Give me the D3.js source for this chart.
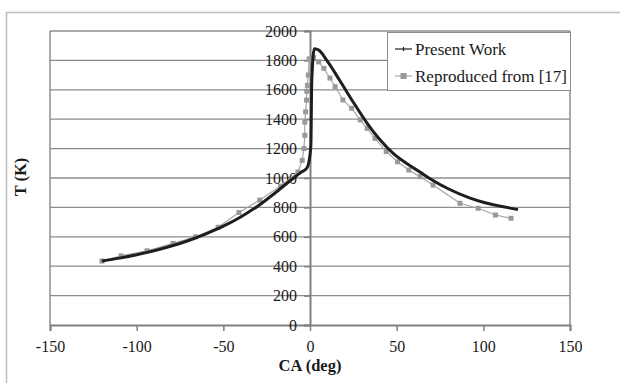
<!DOCTYPE html>
<html><head><meta charset="utf-8">
<script src="https://cdn.jsdelivr.net/npm/d3@7"></script>
<style>body{margin:0;background:#fff}svg{display:block}text{font-family:"Liberation Serif","Times New Roman",serif;fill:#1a1a1a}</style>
</head><body><svg id="c" width="620" height="383"></svg>
<script>
// Present Work (black)
const presentCA = [-120,-110,-100,-90,-80,-70,-60,-50,-40,-30,-20,-10,-5,-2,-1,0.5,1,2.5,5,10,17,25,33,40,48,55,63.5,70,80,92,100,110,120];
const presentT  = [435,455,478,505,537,575,620,672,735,810,900,995,1040,1065,1090,1220,1650,1880,1870,1795,1667,1515,1372,1265,1168,1105,1040,990,925,865,835,808,785];
// Reproduced from [17] (gray squares)
const reproCA = [-120,-109,-94,-79,-66,-53,-41,-29,-17,-7,-4.5,-3.5,-3,-3,-2.5,-2,-1.8,-1.5,-1,-0.5,2,5,8,11.5,14.5,19,24,29,33,37.5,44,50.5,57,63.5,71,86.5,97,107,116];
const reproT  = [435,470,505,555,600,665,765,850,945,1040,1120,1200,1290,1380,1450,1530,1590,1630,1700,1810,1820,1790,1746,1680,1621,1531,1474,1395,1338,1270,1180,1110,1054,1009,952,828,794,748,726];
const xTicks = [-150,-100,-50,0,50,100,150];
const yTicks = [0,200,400,600,800,1000,1200,1400,1600,1800,2000];
const seriesNames = ["Present Work","Reproduced from [17]"];

const FONT = '"Liberation Serif","Times New Roman",serif';
const svg = d3.select("#c");
const x = d3.scaleLinear().domain([-150,150]).range([50,570]);
const y = d3.scaleLinear().domain([0,2000]).range([325,31]);

// outer frame
svg.append("rect").attr("x",6.5).attr("y",12.5).attr("width",640).attr("height",400)
  .attr("fill","none").attr("stroke","#bdbdbd").attr("stroke-width",1.5);

// gridlines
svg.append("g").selectAll("line").data(yTicks.filter(d=>d>0)).join("line")
  .attr("x1",x(-150)).attr("x2",x(150)).attr("y1",d=>y(d)).attr("y2",d=>y(d))
  .attr("stroke","#8c8c8c").attr("stroke-width",1.3);
// plot borders
svg.append("line").attr("x1",x(-150)).attr("x2",x(-150)).attr("y1",y(0)).attr("y2",y(2000)).attr("stroke","#8c8c8c").attr("stroke-width",1.5);
svg.append("line").attr("x1",x(150)).attr("x2",x(150)).attr("y1",y(0)).attr("y2",y(2000)).attr("stroke","#8c8c8c").attr("stroke-width",1.5);

// x axis
const xAxis = d3.axisBottom(x).tickValues(xTicks).tickSize(6).tickPadding(10).tickFormat(d=>String(d));
const gx = svg.append("g").attr("transform",`translate(0,${y(0)})`).call(xAxis)
  .attr("font-family",FONT).attr("font-size",16);
gx.select(".domain").attr("stroke","#808080").attr("stroke-width",2);
gx.selectAll(".tick line").attr("stroke","#808080").attr("stroke-width",1.5);
gx.selectAll("text").attr("fill","#1a1a1a");

// y axis at x=0
const yAxis = d3.axisLeft(y).tickValues(yTicks).tickSize(6).tickPadding(7).tickFormat(d=>String(d));
const gy = svg.append("g").attr("transform",`translate(${x(0)},0)`).call(yAxis)
  .attr("font-family",FONT).attr("font-size",16);
gy.select(".domain").attr("stroke","#808080").attr("stroke-width",2);
gy.selectAll(".tick line").attr("stroke","#808080").attr("stroke-width",1.5);
gy.selectAll("text").attr("fill","#1a1a1a");

// series
const repro = reproCA.map((c,i)=>[c,reproT[i]]);
const present = presentCA.map((c,i)=>[c,presentT[i]]);
svg.append("path").datum(repro).attr("fill","none").attr("stroke","#a6a6a6").attr("stroke-width",1.2)
  .attr("d",d3.line().x(d=>x(d[0])).y(d=>y(d[1])));
svg.append("g").selectAll("rect").data(repro).join("rect")
  .attr("x",d=>x(d[0])-2.5).attr("y",d=>y(d[1])-2.5).attr("width",5).attr("height",5).attr("fill","#999");
svg.append("path").datum(present).attr("fill","none").attr("stroke","#1e1e1e").attr("stroke-width",3)
  .attr("d",d3.line().curve(d3.curveMonotoneX).x(d=>x(d[0])).y(d=>y(d[1])));

// legend
const lg = svg.append("g");
lg.append("rect").attr("x",387.5).attr("y",32.5).attr("width",183).attr("height",58).attr("fill","#fff").attr("stroke","#8c8c8c").attr("stroke-width",1);
lg.append("line").attr("x1",395).attr("x2",412).attr("y1",49).attr("y2",49).attr("stroke","#1e1e1e").attr("stroke-width",1.2);
lg.append("line").attr("x1",403.5).attr("x2",403.5).attr("y1",47).attr("y2",51).attr("stroke","#1e1e1e").attr("stroke-width",1.2);
lg.append("line").attr("x1",395).attr("x2",412).attr("y1",76).attr("y2",76).attr("stroke","#a6a6a6").attr("stroke-width",1.2);
lg.append("rect").attr("x",400.5).attr("y",73).attr("width",6).attr("height",6).attr("fill","#999");
lg.append("text").attr("x",415).attr("y",55).attr("font-size",17).text(seriesNames[0]);
lg.append("text").attr("x",415).attr("y",82).attr("font-size",17).text(seriesNames[1]);

// axis titles
svg.append("text").attr("x",310).attr("y",371).attr("text-anchor","middle").attr("font-size",16.5).attr("font-weight","bold").text("CA (deg)");
svg.append("text").attr("transform","translate(26,177) rotate(-90)").attr("text-anchor","middle").attr("font-size",16.5).attr("font-weight","bold").text("T (K)");
</script></body></html>
